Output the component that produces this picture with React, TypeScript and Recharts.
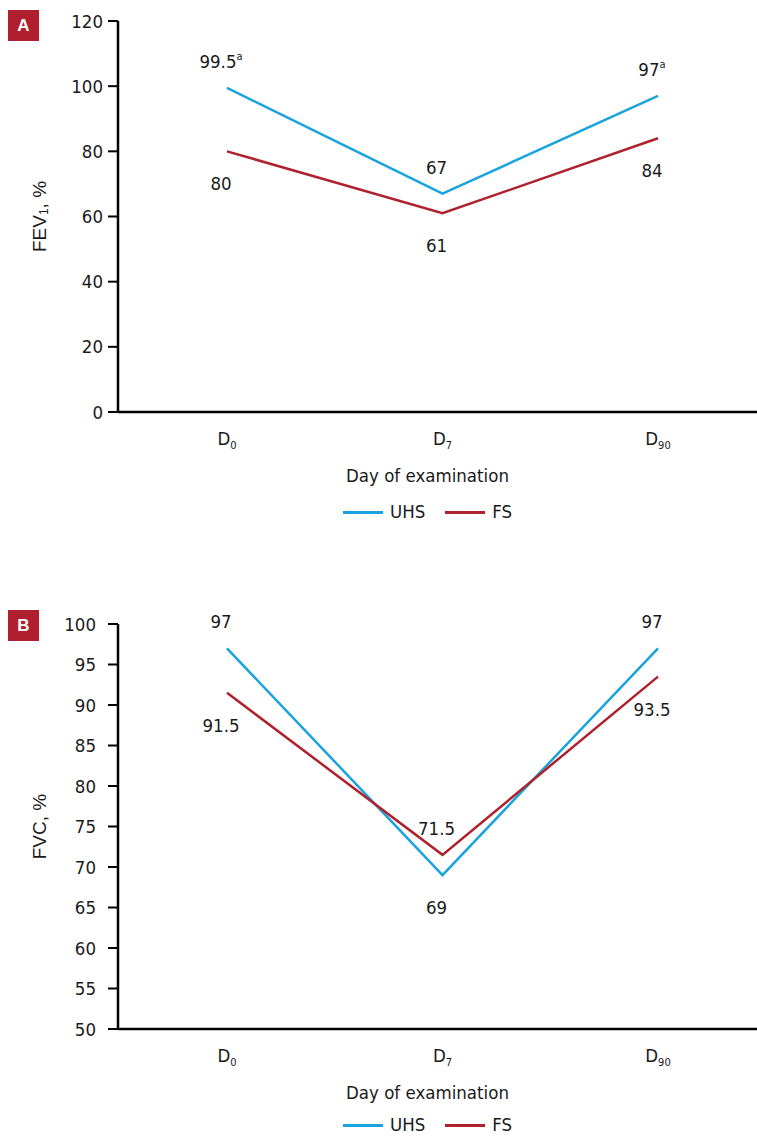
import React from 'react';
import { LineChart, Line, XAxis, YAxis, Legend, LabelList } from 'recharts';

const categories = ['D0', 'D7', 'D90'];
const seriesNames = ['UHS', 'FS'];

const fev1UHS = [99.5, 67, 97];
const fev1FS = [80, 61, 84];
const fev1UHSNotes = ['a', '', 'a'];
const fev1FSNotes = ['', '', ''];
const fev1Ticks = [0, 20, 40, 60, 80, 100, 120];

const fvcUHS = [97, 69, 97];
const fvcFS = [91.5, 71.5, 93.5];
const fvcUHSNotes = ['', '', ''];
const fvcFSNotes = ['', '', ''];
const fvcTicks = [50, 55, 60, 65, 70, 75, 80, 85, 90, 95, 100];

const BLUE = '#1aa3df';
const RED = '#b0212e';
const TEXT = '#1a1a1a';
const FONT = '"DejaVu Sans Condensed", "Liberation Sans Narrow", sans-serif';
const FONT_Y = '"Liberation Sans", Arial, sans-serif';
const FS_MAIN = 18.5;

const CategoryTick = (props: any) => {
  const { x, y, payload } = props;
  const s = String(payload.value);
  return (
    <text x={x} y={y + 26} textAnchor="middle" dominantBaseline="central" fontFamily={FONT} fontSize={FS_MAIN} fill={TEXT}>
      {s.slice(0, 1)}
      <tspan fontSize={11} dy={7}>{s.slice(1)}</tspan>
    </text>
  );
};

const makeLabel = (values: number[], other: number[], notes: string[]) => (props: any) => {
  const { x, y, index, value } = props;
  const above = values[index] >= other[index];
  return (
    <text x={x - 6} y={above ? y - 20 : y + 39} textAnchor="middle" fontFamily={FONT} fontSize={FS_MAIN} fill={TEXT}>
      {value}
      {notes[index] ? <tspan fontSize={11} dy={-8}>{notes[index]}</tspan> : null}
    </text>
  );
};

const renderLegend = (props: any) => {
  const items = [...(props.payload || [])].sort(
    (a: any, b: any) => seriesNames.indexOf(a.value) - seriesNames.indexOf(b.value)
  );
  return (
    <div style={{ display: 'flex', alignItems: 'center', fontFamily: FONT, fontSize: FS_MAIN, color: TEXT, lineHeight: '20px', height: 20 }}>
      {items.map((e: any, i: number) => (
        <div key={i} style={{ display: 'flex', alignItems: 'center', marginRight: i === 0 ? 20 : 0 }}>
          <span style={{ display: 'inline-block', width: 40, height: 3, background: e.color, marginRight: 7 }} />
          <span>{e.value}</span>
        </div>
      ))}
    </div>
  );
};

type PanelProps = {
  badge: string;
  top: number;
  height: number;
  marginTop: number;
  marginBottom: number;
  uhs: number[];
  fs: number[];
  uhsNotes: string[];
  fsNotes: string[];
  ticks: number[];
  yTickMargin: number;
  legendTop: number;
  yMain: string;
  ySub: string;
  yRest: string;
  badgeTop: number;
};

const Panel = (p: PanelProps) => {
  const data = categories.map((c, i) => ({ day: c, UHS: p.uhs[i], FS: p.fs[i] }));
  const yLabel = (lp: any) => {
    const vb = lp.viewBox || { x: 0, y: 0, width: 0, height: 0 };
    const cx = 39;
    const cy = vb.y + vb.height / 2;
    return (
      <text transform={`rotate(-90, ${cx}, ${cy})`} x={cx} y={cy} textAnchor="middle" dominantBaseline="central" fontFamily={FONT_Y} fontSize={19} fill={TEXT}>
        {p.yMain}
        {p.ySub ? <tspan fontSize={12} dy={5}>{p.ySub}</tspan> : null}
        {p.yRest ? <tspan dy={p.ySub ? -5 : 0}>{p.yRest}</tspan> : null}
      </text>
    );
  };
  const xLabel = (lp: any) => {
    const vb = lp.viewBox || { x: 0, y: 0, width: 0, height: 0 };
    return (
      <text x={vb.x + vb.width / 2 - 10} y={vb.y + 63} textAnchor="middle" dominantBaseline="central" fontFamily={FONT} fontSize={FS_MAIN} fill={TEXT}>
        Day of examination
      </text>
    );
  };
  return (
    <div style={{ position: 'absolute', left: 0, top: p.top, width: 757, height: p.height }}>
      <div style={{ position: 'absolute', left: 8, top: p.badgeTop, width: 31, height: 31, background: '#b01f2e', color: '#fff', fontFamily: '"Liberation Sans", Arial, sans-serif', fontWeight: 700, fontSize: 17, display: 'flex', alignItems: 'center', justifyContent: 'center', zIndex: 2 }}>
        {p.badge}
      </div>
      <LineChart width={757} height={p.height} data={data} margin={{ top: p.marginTop, right: 0, left: 0, bottom: p.marginBottom }}>
        <XAxis
          dataKey="day"
          scale="point"
          padding={{ left: 109, right: 99 }}
          height={40}
          tickLine={false}
          tickSize={0}
          tickMargin={0}
          axisLine={{ stroke: '#000', strokeWidth: 2.5 }}
          tick={<CategoryTick />}
          label={{ content: xLabel }}
          interval={0}
        />
        <YAxis
          type="number"
          width={118}
          domain={[p.ticks[0], p.ticks[p.ticks.length - 1]]}
          ticks={p.ticks}
          interval={0}
          tickSize={10}
          tickMargin={p.yTickMargin}
          tickLine={{ stroke: '#000', strokeWidth: 2 }}
          axisLine={{ stroke: '#000', strokeWidth: 2.5 }}
          tick={{ fontFamily: FONT, fontSize: FS_MAIN, fill: TEXT }}
          label={{ content: yLabel }}
        />
        <Legend layout="horizontal" verticalAlign="middle" align="center" wrapperStyle={{ left: 343, top: p.legendTop, width: 'auto', height: 20 }} content={renderLegend} />
        <Line type="linear" dataKey="UHS" name="UHS" stroke={BLUE} strokeWidth={2.5} dot={false} isAnimationActive={false}>
          <LabelList dataKey="UHS" content={makeLabel(p.uhs, p.fs, p.uhsNotes)} />
        </Line>
        <Line type="linear" dataKey="FS" name="FS" stroke={RED} strokeWidth={2.5} dot={false} isAnimationActive={false}>
          <LabelList dataKey="FS" content={makeLabel(p.fs, p.uhs, p.fsNotes)} />
        </Line>
      </LineChart>
    </div>
  );
};

export default function App() {
  return (
    <div style={{ position: 'absolute', left: 0, top: 0, width: 757, height: 1136, background: '#fff' }}>
      <Panel
        badge="A"
        badgeTop={10}
        top={0}
        height={560}
        marginTop={21}
        marginBottom={108}
        uhs={fev1UHS}
        fs={fev1FS}
        uhsNotes={fev1UHSNotes}
        fsNotes={fev1FSNotes}
        ticks={fev1Ticks}
        yTickMargin={5}
        legendTop={502}
        yMain="FEV"
        ySub="1"
        yRest=", %"
      />
      <Panel
        badge="B"
        badgeTop={20}
        top={590}
        height={546}
        marginTop={34}
        marginBottom={67}
        uhs={fvcUHS}
        fs={fvcFS}
        uhsNotes={fvcUHSNotes}
        fsNotes={fvcFSNotes}
        ticks={fvcTicks}
        yTickMargin={12}
        legendTop={525}
        yMain="FVC, %"
        ySub=""
        yRest=""
      />
    </div>
  );
}
